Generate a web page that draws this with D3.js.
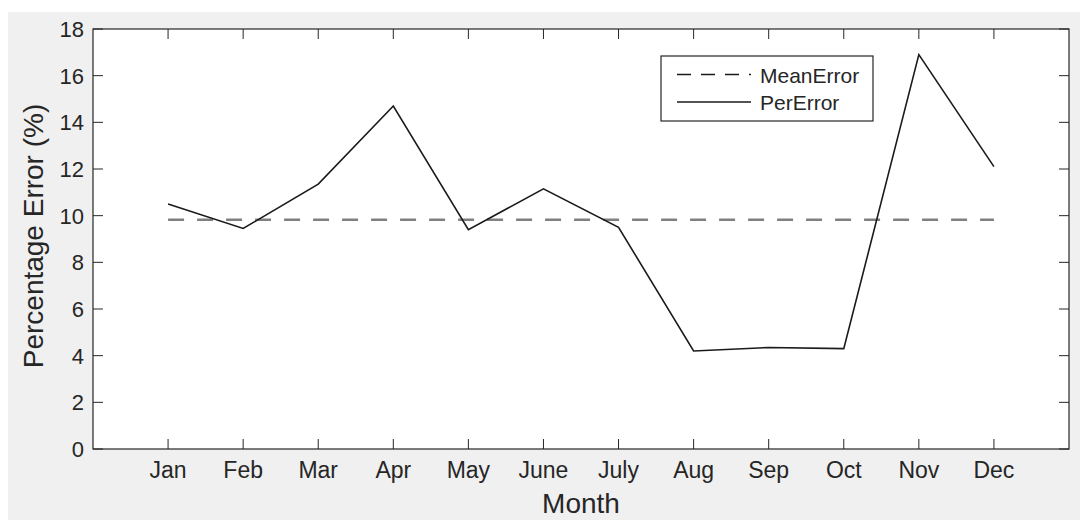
<!DOCTYPE html>
<html>
<head>
<style>
  body { margin: 0; background: #fff; }
  text { font-family: "Liberation Sans", Arial, sans-serif; fill: #262626; }
</style>
</head>
<body>

<script src="https://d3js.org/d3.v7.min.js"></script>

<script>

const width = 1080;
const height = 520;

const months = ['Jan', 'Feb', 'Mar', 'Apr', 'May', 'June', 'July', 'Aug', 'Sep', 'Oct', 'Nov', 'Dec'];
const perError = [10.5, 9.45, 11.35, 14.7, 9.4, 11.15, 9.5, 4.2, 4.35, 4.3, 16.9, 12.1];
const meanError = 9.83;
const yTicks = [0, 2, 4, 6, 8, 10, 12, 14, 16, 18];

const margin = {left: 93, right: 11, top: 29, bottom: 71};

const svg = d3.select('body')
              .append('svg')
              .attr('width', width)
              .attr('height', height);

// figure background
svg.append('rect')
   .attr('x', 8).attr('y', 12)
   .attr('width', width - 8).attr('height', height - 12)
   .attr('fill', '#f0f0f0');

const x = d3.scaleLinear()
            .domain([0, months.length + 1])
            .range([margin.left, width - margin.right]);

const y = d3.scaleLinear()
            .domain([0, 18])
            .range([height - margin.bottom, margin.top]);

// plot area
svg.append('rect')
   .attr('x', x(0)).attr('y', y(18))
   .attr('width', x(13) - x(0)).attr('height', y(0) - y(18))
   .attr('fill', '#fff');

const tickLen = 10;
const axisColor = '#262626';

// x ticks (bottom + top, inward)
months.forEach((m, i) => {
  const xi = x(i + 1);
  svg.append('line')
     .attr('x1', xi).attr('x2', xi)
     .attr('y1', y(0)).attr('y2', y(0) - tickLen)
     .attr('stroke', axisColor);
  svg.append('line')
     .attr('x1', xi).attr('x2', xi)
     .attr('y1', y(18)).attr('y2', y(18) + tickLen)
     .attr('stroke', axisColor);
  svg.append('text')
     .attr('x', xi).attr('y', y(0) + 29)
     .attr('text-anchor', 'middle')
     .attr('font-size', 23)
     .text(m);
});

// y ticks (left + right, inward)
yTicks.forEach(t => {
  const yi = y(t);
  svg.append('line')
     .attr('x1', x(0)).attr('x2', x(0) + tickLen)
     .attr('y1', yi).attr('y2', yi)
     .attr('stroke', axisColor);
  svg.append('line')
     .attr('x1', x(13)).attr('x2', x(13) - tickLen)
     .attr('y1', yi).attr('y2', yi)
     .attr('stroke', axisColor);
  svg.append('text')
     .attr('x', x(0) - 9).attr('y', yi + 8)
     .attr('text-anchor', 'end')
     .attr('font-size', 22)
     .text(t);
});

// box
svg.append('rect')
   .attr('x', x(0)).attr('y', y(18))
   .attr('width', x(13) - x(0)).attr('height', y(0) - y(18))
   .attr('fill', 'none')
   .attr('stroke', axisColor)
   .attr('stroke-width', 1.2);

// mean line
svg.append('line')
   .attr('x1', x(1)).attr('x2', x(12))
   .attr('y1', y(meanError)).attr('y2', y(meanError))
   .attr('stroke', '#808080')
   .attr('stroke-width', 2.5)
   .attr('stroke-dasharray', '16,13');

// per-month error
const line = d3.line()
               .x((d, i) => x(i + 1))
               .y(d => y(d));

svg.append('path')
   .datum(perError)
   .attr('d', line)
   .attr('fill', 'none')
   .attr('stroke', '#1a1a1a')
   .attr('stroke-width', 1.6);

// axis titles
svg.append('text')
   .attr('x', 581).attr('y', 513)
   .attr('text-anchor', 'middle')
   .attr('font-size', 28)
   .text('Month');

svg.append('text')
   .attr('transform', 'translate(43, 236) rotate(-90)')
   .attr('text-anchor', 'middle')
   .attr('font-size', 28)
   .text('Percentage Error (%)');

// legend
const legend = svg.append('g').attr('transform', 'translate(661, 56)');
legend.append('rect')
      .attr('width', 212).attr('height', 65)
      .attr('fill', '#fff')
      .attr('stroke', axisColor)
      .attr('stroke-width', 1.2);

const legendItems = [
  {label: 'MeanError', dash: '14,10'},
  {label: 'PerError', dash: null}
];

legendItems.forEach((d, i) => {
  const ly = 18.5 + i * 27.5;
  legend.append('line')
        .attr('x1', 16).attr('x2', 90)
        .attr('y1', ly).attr('y2', ly)
        .attr('stroke', '#1a1a1a')
        .attr('stroke-width', 1.3)
        .attr('stroke-dasharray', d.dash);
  legend.append('text')
        .attr('x', 99).attr('y', ly + 8)
        .attr('font-size', 21)
        .text(d.label);
});

</script>
</body>
</html>
